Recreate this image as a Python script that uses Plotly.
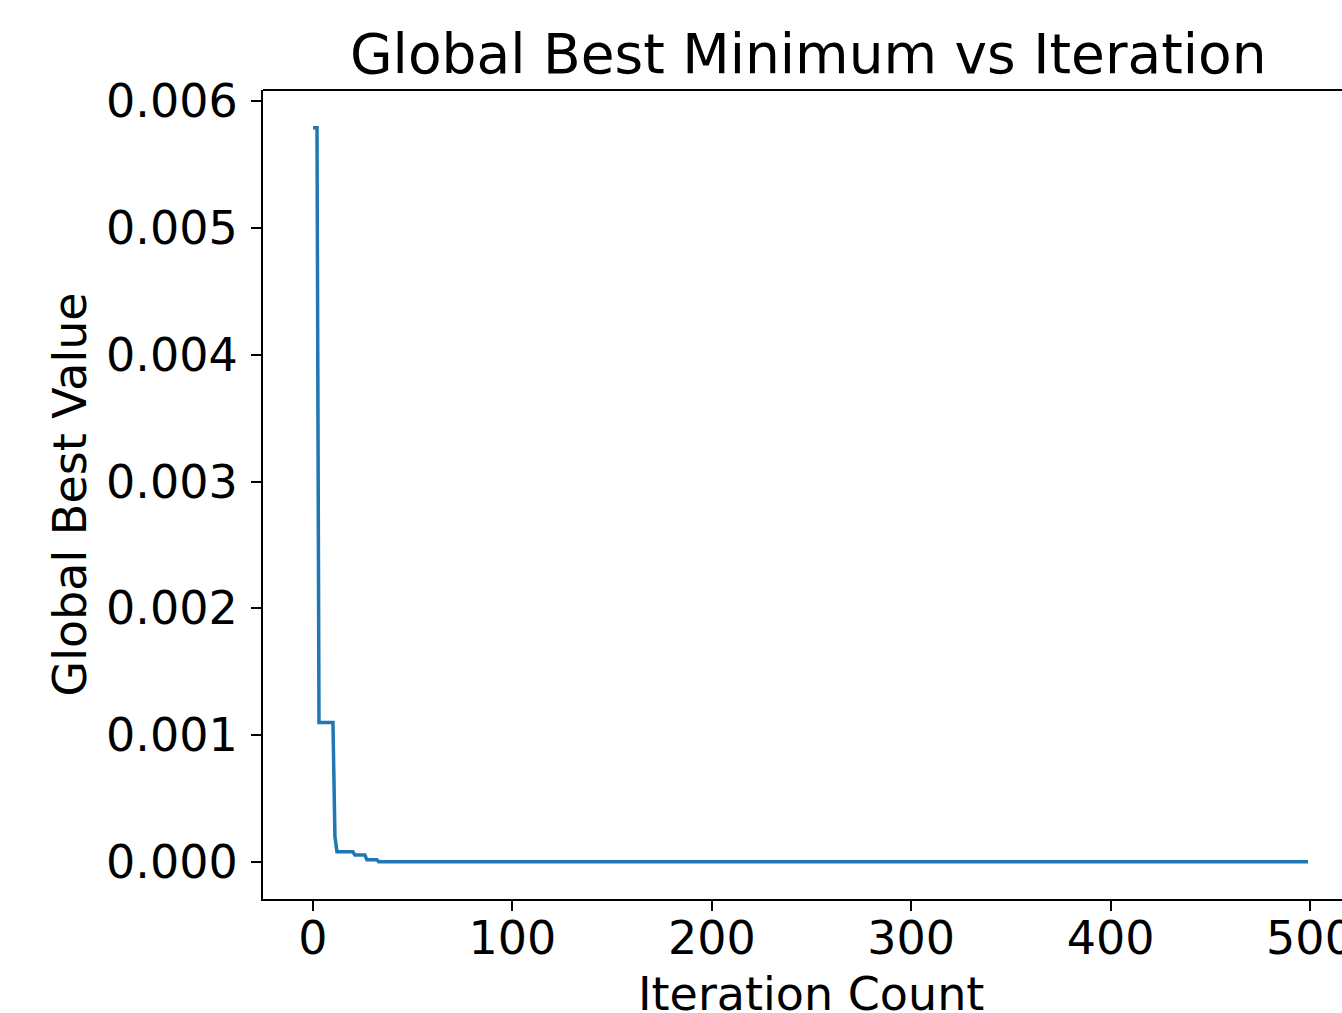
import plotly.graph_objects as go

# Data (global best value at change points)
iterations = [0, 2, 3, 10, 11, 12, 20, 21, 26, 27, 32, 33, 499]
best_values = [0.00579, 0.00579, 0.00110, 0.00110, 0.00020, 0.00008, 0.00008,
               0.000055, 0.000055, 0.000018, 0.000018, 0.000002, 0.000002]

x_ticks = [0, 100, 200, 300, 400, 500]
y_ticks = [0.000, 0.001, 0.002, 0.003, 0.004, 0.005, 0.006]
y_tick_text = [f"{v:.3f}" for v in y_ticks]

W, H = 1342, 1013
L, R, T, B = 263, 0, 90, 114
font = "DejaVu Sans"

fig = go.Figure()
fig.add_trace(go.Scatter(x=iterations, y=best_values, mode="lines",
                         line=dict(color="#1f77b4", width=3.5), showlegend=False))

fig.update_layout(
    width=W, height=H, autosize=False,
    margin=dict(l=L, r=R, t=T, b=B, autoexpand=False),
    paper_bgcolor="white", plot_bgcolor="white",
    font=dict(family=font, size=46, color="black"),
    xaxis=dict(range=[-25.08, 516.05], tickvals=x_ticks, ticks="outside", ticklen=10,
               tickwidth=2, tickcolor="black", showline=True, linewidth=2, linecolor="black",
               showgrid=False, zeroline=False, tickfont=dict(size=46), automargin=False,
               ticklabeloverflow="allow", ticklabelstandoff=-12),
    yaxis=dict(range=[-0.000292, 0.006087], tickvals=y_ticks, ticktext=y_tick_text,
               ticks="outside", ticklen=10, tickwidth=2, tickcolor="black",
               showline=True, linewidth=2, linecolor="black", automargin=False,
               showgrid=False, zeroline=False, tickfont=dict(size=46),
               ticklabelstandoff=4),
    shapes=[dict(type="line", xref="paper", yref="paper", x0=0, x1=1.02, y0=1, y1=1,
                 line=dict(color="black", width=2))],
    annotations=[
        dict(text="Global Best Minimum vs Iteration", xref="paper", yref="paper",
             x=(808 - L) / (W - L), y=1, yshift=2, xanchor="center", yanchor="bottom",
             showarrow=False, font=dict(size=55, family=font)),
        dict(text="Iteration Count", xref="paper", yref="paper",
             x=(811 - L) / (W - L), y=0, yshift=-66, xanchor="center", yanchor="top",
             showarrow=False, font=dict(size=46, family=font)),
        dict(text="Global Best Value", xref="paper", yref="paper", textangle=-90,
             x=0, xshift=-(L - 40), y=0.5, xanchor="left", yanchor="middle",
             showarrow=False, font=dict(size=46, family=font)),
    ],
)

fig.write_html("out.html", config={"displayModeBar": False, "responsive": False},
               post_script="document.body.style.margin='0';")
